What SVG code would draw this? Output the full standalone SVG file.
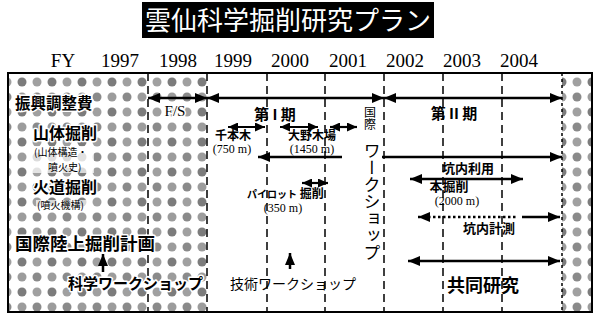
<svg xmlns="http://www.w3.org/2000/svg" width="596" height="321" viewBox="0 0 596 321">
<style>
.jp{font-family:"Noto Sans CJK JP","Noto Sans",sans-serif;fill:#000}
.b{font-weight:bold}
.num{font-family:"Liberation Serif",serif;fill:#000}
.halo{stroke:#fff;stroke-width:3;paint-order:stroke;stroke-linejoin:round}
.ar{stroke:#000;stroke-width:2.5;fill:none}
.sar{stroke:#000;stroke-width:2.2;fill:none}
.grid{stroke:#000;stroke-width:1.5;stroke-dasharray:8 5}
</style>
<defs>
<pattern id="tex" width="30" height="30" patternUnits="userSpaceOnUse">
<rect width="30" height="30" fill="#fff"/>
<circle cx="7" cy="7" r="4.5" fill="#8a8a8a"/>
<circle cx="22" cy="7" r="4.5" fill="#9c9c9c"/>
<circle cx="7" cy="22" r="4.5" fill="#a0a0a0"/>
<circle cx="22" cy="22" r="4.5" fill="#7c7c7c"/>
</pattern>
<marker id="ah" viewBox="0 0 12 10" markerWidth="12" markerHeight="10" refX="12" refY="5" orient="auto-start-reverse" markerUnits="userSpaceOnUse">
<path d="M0,0 L12,5 L0,10 z" fill="#000"/>
</marker>
<marker id="sh" viewBox="0 0 10 9" markerWidth="10" markerHeight="9" refX="10" refY="4.5" orient="auto-start-reverse" markerUnits="userSpaceOnUse">
<path d="M0,0 L10,4.5 L0,9 z" fill="#000"/>
</marker>
</defs>
<rect width="596" height="321" fill="#fff"/>

<g id="title">
<rect x="142" y="2" width="292" height="36" fill="#000"/>
<text x="288" y="30" text-anchor="middle" font-size="26" style="font-family:'Noto Sans CJK JP','Noto Sans',sans-serif;fill:#fff">雲仙科学掘削研究プラン</text>
</g>

<g id="header" class="num" font-size="19" text-anchor="middle">
<text x="63" y="67">FY</text>
<text x="120" y="67">1997</text>
<text x="178" y="67">1998</text>
<text x="233" y="67">1999</text>
<text x="290" y="67">2000</text>
<text x="348" y="67">2001</text>
<text x="405" y="67">2002</text>
<text x="462" y="67">2003</text>
<text x="519" y="67">2004</text>
</g>

<g id="frame">
<rect x="8" y="73" width="199" height="239" fill="url(#tex)"/>
<rect x="562" y="73" width="30" height="239" fill="url(#tex)"/>
<g class="grid">
<line x1="148" y1="73" x2="148" y2="312"/>
<line x1="207" y1="73" x2="207" y2="312"/>
<line x1="267" y1="73" x2="267" y2="312"/>
<line x1="325" y1="73" x2="325" y2="312"/>
<line x1="384" y1="73" x2="384" y2="312"/>
<line x1="443" y1="73" x2="443" y2="312"/>
<line x1="502" y1="73" x2="502" y2="312"/>
<line x1="562" y1="73" x2="562" y2="312" style="stroke-dasharray:3 3"/>
</g>
<rect x="8" y="73" width="584" height="239" fill="none" stroke="#000" stroke-width="2"/>
</g>

<g id="row-labels" class="jp">
<text class="b halo" x="15" y="109" font-size="15.5">振興調整費</text>
<text class="b halo" x="33" y="139" font-size="16">山体掘削</text>
<rect x="32" y="146" width="62" height="27" fill="#fff" opacity="0.7"/>
<text x="34" y="156" font-size="10">(山体構造・</text>
<text x="48" y="171" font-size="10">噴火史)</text>
<text class="b halo" x="33" y="193" font-size="16">火道掘削</text>
<rect x="36" y="200" width="56" height="11" fill="#fff" opacity="0.7"/>
<text x="37" y="209" font-size="10">(噴火機構)</text>
<text class="b halo" x="15" y="250" font-size="17.5">国際陸上掘削計画</text>
<text class="b halo" x="68" y="289" font-size="15">科学ワークショップ</text>
</g>

<g id="connectors">
<line class="ar" x1="148" y1="98" x2="207" y2="98" marker-start="url(#ah)" marker-end="url(#ah)"/>
<line class="ar" x1="207" y1="98" x2="384" y2="98" marker-start="url(#ah)" marker-end="url(#ah)"/>
<line class="ar" x1="384" y1="98" x2="562" y2="98" marker-start="url(#ah)" marker-end="url(#ah)"/>
<line class="sar" x1="228" y1="127" x2="265" y2="127" marker-start="url(#sh)" marker-end="url(#sh)"/>
<line class="sar" x1="280" y1="127" x2="318" y2="127" marker-start="url(#sh)" marker-end="url(#sh)"/>
<line class="sar" x1="330" y1="127" x2="357" y2="127" marker-start="url(#sh)" marker-end="url(#sh)"/>
<line class="ar" x1="258" y1="157" x2="342" y2="157" marker-start="url(#ah)"/>
<line class="ar" x1="382" y1="157" x2="562" y2="157" marker-end="url(#ah)"/>
<line class="ar" x1="410" y1="179" x2="523" y2="179" marker-start="url(#ah)" marker-end="url(#ah)"/>
<line class="sar" x1="302" y1="183" x2="328" y2="183" marker-start="url(#sh)" marker-end="url(#sh)"/>
<line class="ar" x1="418" y1="217" x2="517" y2="217" marker-start="url(#ah)" style="stroke-dasharray:2.5 2.5"/>
<line class="ar" x1="522" y1="217" x2="560" y2="217" marker-end="url(#ah)"/>
<line class="ar" x1="408" y1="261" x2="560" y2="261" marker-start="url(#ah)" marker-end="url(#ah)"/>
<line class="ar" x1="103" y1="272" x2="103" y2="254" marker-end="url(#ah)"/>
<line class="ar" x1="290" y1="269" x2="290" y2="253" marker-end="url(#ah)"/>
</g>

<g id="phase-labels">
<text class="num halo" x="175" y="116" font-size="15" text-anchor="middle">F/S</text>
<text class="jp b" x="275" y="120" font-size="15" text-anchor="middle">第 I 期</text>
<text class="jp b" x="454" y="119" font-size="15" text-anchor="middle">第 II 期</text>
</g>

<g id="sites">
<text class="jp b" x="233" y="140" font-size="12" text-anchor="middle">千本木</text>
<text class="num" x="232" y="153" font-size="12" text-anchor="middle">(750 m)</text>
<text class="jp b" x="312" y="140" font-size="12" text-anchor="middle">大野木場</text>
<text class="num" x="312" y="153" font-size="12" text-anchor="middle">(1450 m)</text>
<text class="jp b" x="247" y="198" font-size="12"><tspan font-size="10">パイロット</tspan> 掘削</text>
<text class="num" x="283" y="212" font-size="12" text-anchor="middle">(350 m)</text>
<text class="jp b" x="468" y="173" font-size="13" text-anchor="middle">坑内利用</text>
<text class="jp b" x="449" y="191" font-size="13" text-anchor="middle">本掘削</text>
<text class="num" x="457" y="205" font-size="12" text-anchor="middle">(2000 m)</text>
<text class="jp b" x="489" y="233" font-size="13" text-anchor="middle">坑内計測</text>
</g>

<g id="workshops">
<text class="jp" x="370" y="106" font-size="12" style="writing-mode:vertical-rl">国際</text>
<text class="jp" x="372" y="142" font-size="17" style="writing-mode:vertical-rl">ワークショップ</text>
<text class="jp" x="230" y="289" font-size="14">技術ワークショップ</text>
<text class="jp b" x="483" y="292" font-size="18" text-anchor="middle">共同研究</text>
</g>
</svg>
